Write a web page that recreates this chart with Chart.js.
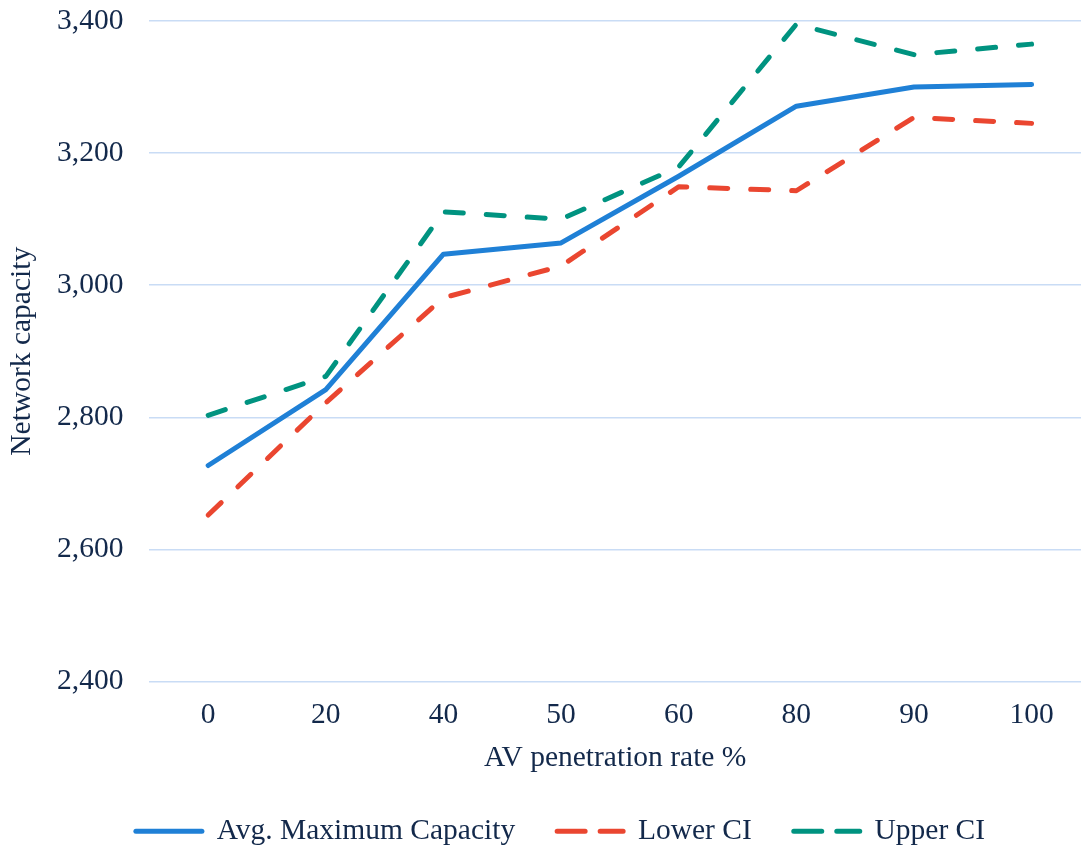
<!DOCTYPE html>
<html><head><meta charset="utf-8">
<script src="https://cdn.jsdelivr.net/npm/chart.js@4"></script>
<style>html,body{margin:0;padding:0;background:#fff;overflow:hidden}#wrap{width:1081px;height:848px}</style>
</head><body><div id="wrap"><canvas id="c" width="1081" height="848"></canvas></div>
<script>
const categories = ['0', '20', '40', '50', '60', '80', '90', '100'];
const avgCapacity = [2727, 2842, 3047, 3064, 3165, 3271, 3300, 3304];
const lowerCI = [2652, 2822, 2981, 3029, 3149, 3143, 3254, 3245];
const upperCI = [2803, 2862, 3111, 3100, 3179, 3395, 3349, 3365];
const yTicks = [2400, 2600, 2800, 3000, 3200, 3400];
const seriesNames = ['Avg. Maximum Capacity', 'Lower CI', 'Upper CI'];

const textColor = '#13294b';
const fontFamily = '"Liberation Serif", "Times New Roman", serif';
const fnt = {family: fontFamily, size: 29.5, lineHeight: 1.0};
const pts = arr => arr.map((v, i) => ({x: i, y: v}));
const legendDash = [[], [28, 15], [28, 15]];

const legendShift = {
  id: 'legendShift',
  afterLayout(chart) {
    if (chart.legend) { chart.legend.left += 20; chart.legend.right += 20; }
  }
};

new Chart(document.getElementById('c'), {
  type: 'line',
  data: {
    datasets: [
      {label: seriesNames[0], data: pts(avgCapacity), borderColor: '#1f80d6', backgroundColor: '#1f80d6',
       borderWidth: 5, borderCapStyle: 'round', borderJoinStyle: 'round', pointRadius: 0, tension: 0},
      {label: seriesNames[1], data: pts(lowerCI), borderColor: '#ea4630', backgroundColor: '#ea4630',
       borderWidth: 5, borderDash: [18, 23], borderCapStyle: 'round', borderJoinStyle: 'round', pointRadius: 0, tension: 0},
      {label: seriesNames[2], data: pts(upperCI), borderColor: '#009380', backgroundColor: '#009380',
       borderWidth: 5, borderDash: [18, 23], borderCapStyle: 'round', borderJoinStyle: 'round', pointRadius: 0, tension: 0}
    ]
  },
  options: {
    responsive: false,
    animation: false,
    layout: {autoPadding: false, padding: {top: 21, right: 0, left: 0, bottom: -8}},
    plugins: {
      tooltip: {enabled: false},
      legend: {
        position: 'bottom',
        labels: {
          usePointStyle: true, pointStyle: 'line', pointStyleWidth: 66,
          padding: 42, color: textColor, font: fnt,
          generateLabels: chart => Chart.defaults.plugins.legend.labels.generateLabels(chart).map(l =>
            Object.assign(l, {pointStyle: 'line', lineWidth: 5, lineCap: 'round',
              strokeStyle: chart.data.datasets[l.datasetIndex].borderColor,
              lineDash: legendDash[l.datasetIndex]}))
        }
      }
    },
    scales: {
      x: {
        type: 'linear', min: -0.5, max: 7.42,
        afterBuildTicks: s => { s.ticks = categories.map((c, i) => ({value: i})); },
        ticks: {callback: v => categories[v], color: textColor, font: fnt, padding: 19, maxRotation: 0},
        grid: {display: false, drawTicks: false},
        border: {display: false},
        title: {display: true, text: 'AV penetration rate %', color: textColor, font: fnt, padding: {top: -6, bottom: 2}}
      },
      y: {
        min: 2400, max: 3400,
        afterBuildTicks: s => { s.ticks = yTicks.map(v => ({value: v})); },
        ticks: {callback: v => v.toLocaleString('en-US'), color: textColor, font: fnt, padding: 0},
        grid: {color: '#c9dcf5', lineWidth: 1.5, drawTicks: true, tickLength: 26, tickColor: 'rgba(0,0,0,0)'},
        border: {display: false},
        title: {display: true, text: 'Network capacity', color: textColor, font: fnt, padding: {top: 7, bottom: 20.5}}
      }
    }
  },
  plugins: [legendShift]
});
</script></body></html>
